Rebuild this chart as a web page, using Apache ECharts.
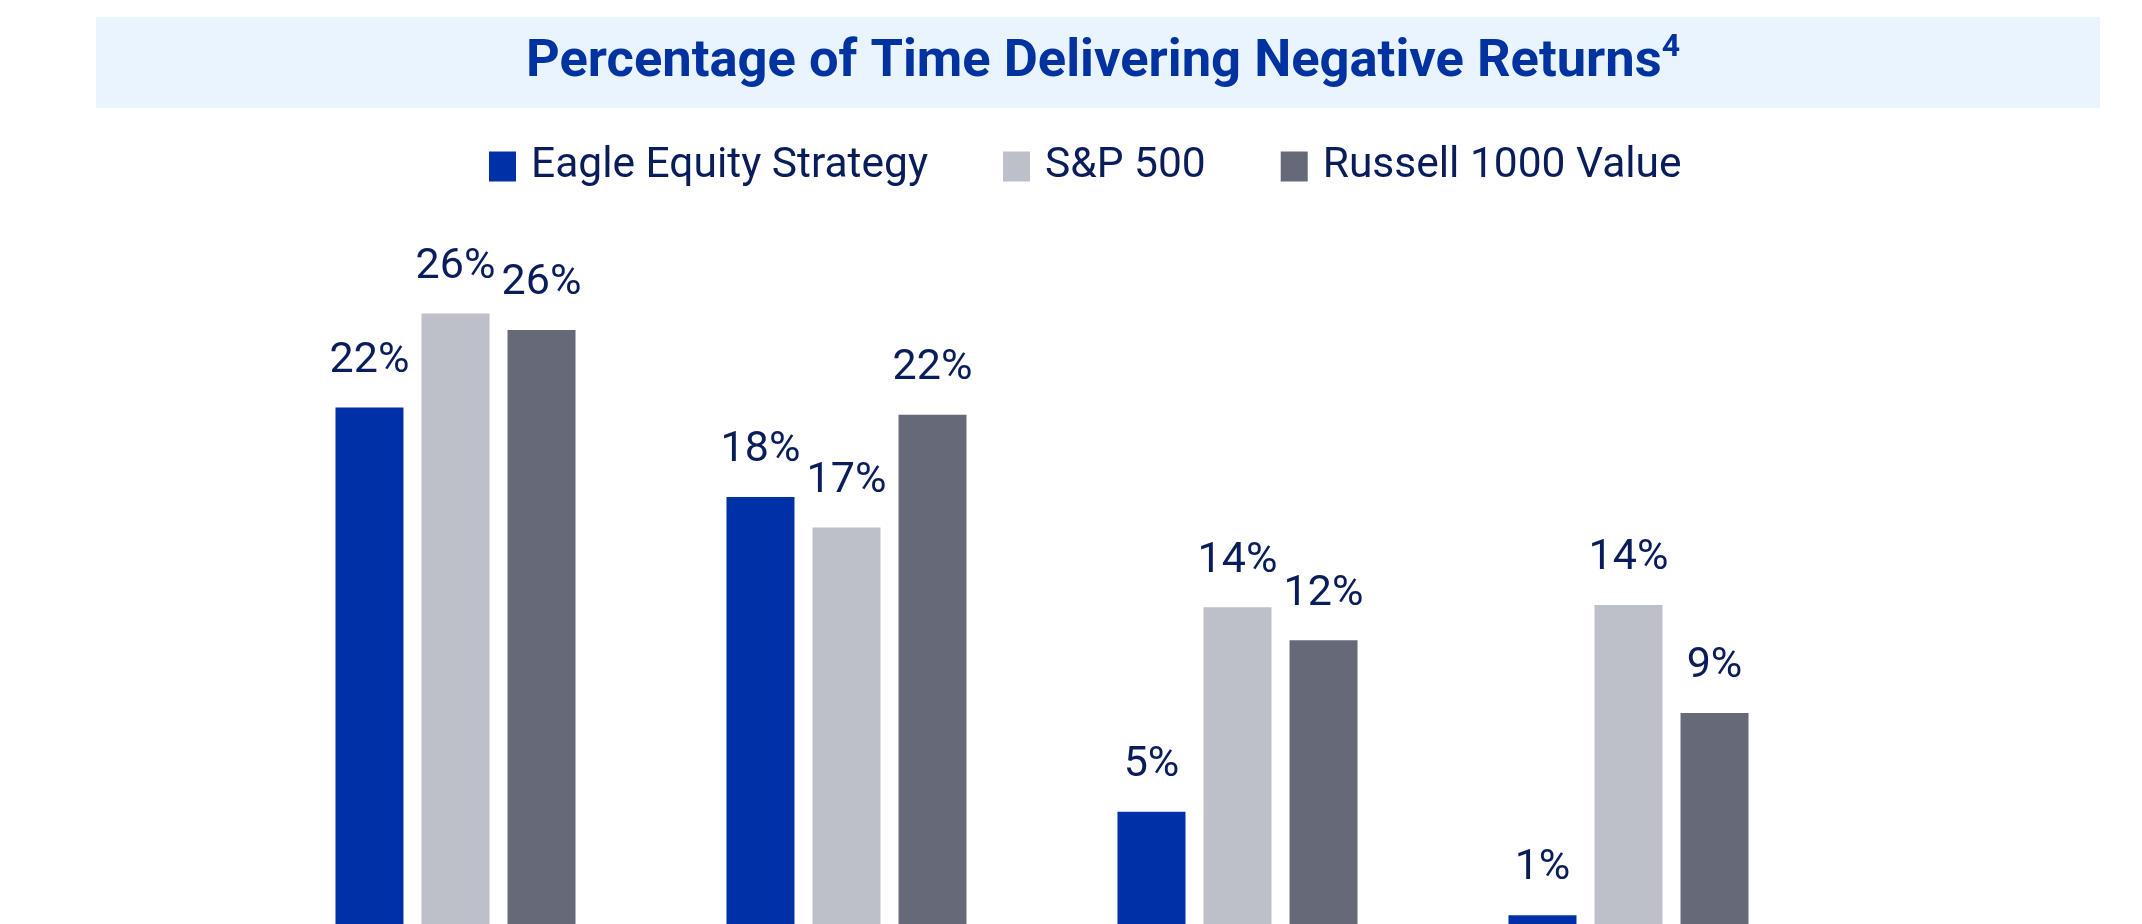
<!DOCTYPE html>
<html>
<head>
<meta charset="utf-8">
<script src="https://cdn.jsdelivr.net/npm/echarts@6/dist/echarts.min.js"></script>
<style>
    html, body { margin: 0; padding: 0; background: #ffffff; overflow: hidden; }
    #chart { width: 2142px; height: 1000px; }
</style>
</head>
<body>
<div id="chart"></div>
<script>
// categories are cut off at the bottom of the picture; the bars run past the frame
const categories = ["1-Year", "3-Year", "5-Year", "10-Year"];
const seriesNames = ["Eagle Equity Strategy", "S&P 500", "Russell 1000 Value"];
// values, labels show them rounded
const eagleValues = [22.2, 18.4, 5.0, 0.6];
const spValues = [26.2, 17.1, 13.7, 13.8];
const russellValues = [25.5, 21.9, 12.3, 9.2];

const colors = ["#0030A8", "#BDC0C8", "#666A78"];
const navy = "#0A1D5B";

const chart = echarts.init(document.getElementById("chart"), null, { renderer: "canvas" });

const barLabel = {
    show: true,
    position: "top",
    distance: 25,
    color: navy,
    fontFamily: "Roboto",
    fontSize: 43,
    formatter: (p) => Math.round(p.value) + "%",
};

function makeSeries(name, data, color) {
    return {
        name: name,
        type: "bar",
        data: data,
        barWidth: 68,
        barGap: "26.5%",
        itemStyle: { color: color },
        label: barLabel,
        emphasis: { disabled: true },
    };
}

const option = {
    animation: false,
    graphic: [
        {
            type: "rect",
            z: -10,
            shape: { x: 96, y: 17, width: 2004, height: 91 },
            style: { fill: "#EAF4FE" },
        },
    ],
    title: {
        text: "{t|Percentage of Time Delivering Negative Returns}{s|4}",
        left: 1098,
        top: 27,
        textAlign: "center",
        textStyle: {
            rich: {
                t: { fontFamily: "Roboto", fontWeight: "bold", fontSize: 52.5, color: "#0033A0", lineHeight: 62 },
                s: { fontFamily: "Roboto", fontWeight: "bold", fontSize: 32, color: "#0033A0", verticalAlign: "top", lineHeight: 44 },
            },
        },
    },
    legend: {
        left: 484,
        top: 140,
        itemWidth: 27,
        itemHeight: 30,
        itemGap: 75,
        icon: "rect",
        textStyle: { color: navy, fontFamily: "Roboto", fontSize: 42.5, padding: [0, 0, 0, 10] },
        data: seriesNames,
    },
    grid: { left: 260, right: 318, top: 224.3, bottom: 70.7 },
    xAxis: {
        type: "category",
        data: categories,
        axisLine: { show: false },
        axisTick: { show: false },
        axisLabel: { show: false },
    },
    yAxis: {
        type: "value",
        min: 0,
        max: 30,
        show: false,
        splitLine: { show: false },
    },
    series: [
        makeSeries(seriesNames[0], eagleValues, colors[0]),
        makeSeries(seriesNames[1], spValues, colors[1]),
        makeSeries(seriesNames[2], russellValues, colors[2]),
    ],
};

chart.setOption(option);
</script>
</body>
</html>
